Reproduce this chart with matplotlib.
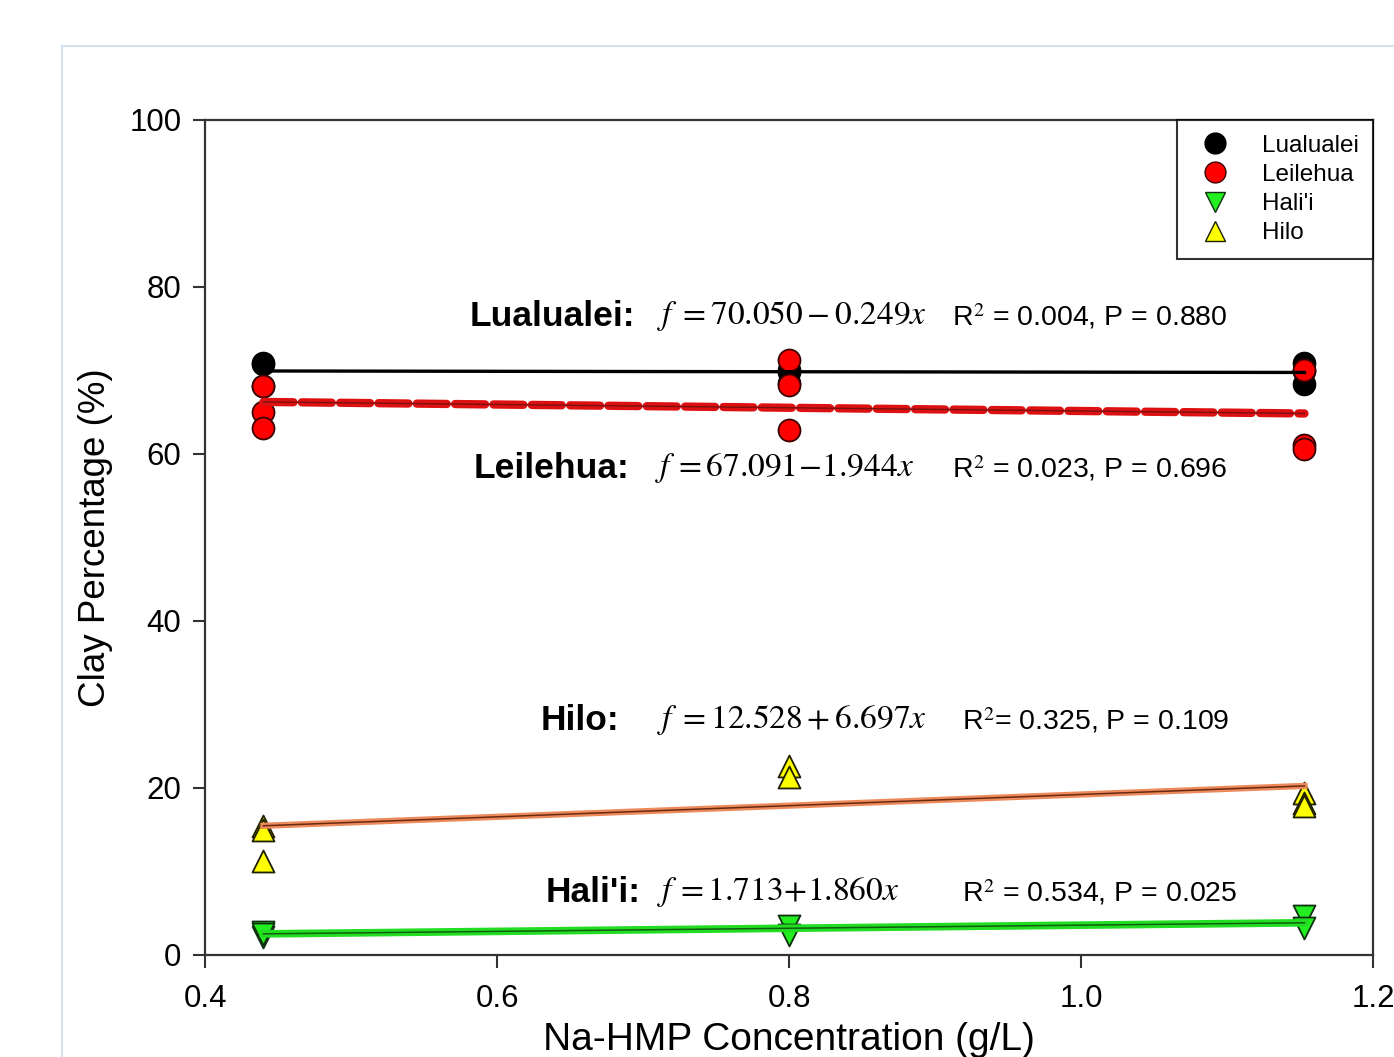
import numpy as np
import matplotlib.pyplot as plt
from matplotlib.lines import Line2D
from matplotlib.patches import Rectangle

# measured data (Na-HMP concentration vs clay %)
lual_x = [0.44, 0.44, 0.44, 0.80, 0.80, 0.80, 1.153, 1.153, 1.153]
lual_y = [70.9, 70.8, 68.2, 70.0, 69.8, 68.5, 70.9, 69.9, 68.4]
leil_x = [0.44, 0.44, 0.44, 0.80, 0.80, 0.80, 1.153, 1.153, 1.153]
leil_y = [68.1, 65.0, 63.1, 71.3, 68.3, 62.9, 70.1, 61.1, 60.6]
hali_x = [0.44, 0.44, 0.44, 0.80, 0.80, 1.153, 1.153]
hali_y = [2.75, 2.2, 2.5, 3.5, 2.4, 4.7, 3.2]
hilo_x = [0.44, 0.44, 0.44, 0.80, 0.80, 1.153, 1.153, 1.153]
hilo_y = [15.4, 15.0, 11.3, 22.6, 21.3, 19.4, 18.2, 17.8]

# regression fits (intercept, slope)
lual_fit = (70.050, -0.249)
leil_fit = (67.091, -1.944)
hilo_fit = (12.528, 6.697)
hali_fit = (1.713, 1.860)
fit_range = [0.44, 1.153]

x_ticks = [0.4, 0.6, 0.8, 1.0, 1.2]
y_ticks = [0, 20, 40, 60, 80, 100]

plt.rcParams["font.family"] = ["Liberation Sans", "DejaVu Sans"]
plt.rcParams["mathtext.fontset"] = "stix"


def fit_line(fit):
    xs = np.array(fit_range)
    return xs, fit[0] + fit[1] * xs


def main() -> None:
    fig = plt.figure(figsize=(13.94, 10.57), dpi=100)
    fig.patches.append(Rectangle((0.0445, -0.1), 1.2, 1.0565, transform=fig.transFigure,
                                 fill=False, edgecolor="#d5e1f0", lw=1.5))
    ax = fig.add_axes([0.1471, 0.0965, 0.8379, 0.79])

    ms = 250
    ax.scatter(lual_x, lual_y, s=ms, marker="o", c="black", edgecolors="black", lw=1.2, zorder=2)
    ax.scatter(leil_x, leil_y, s=ms, marker="o", c="#ff0000", edgecolors="#3a0000", lw=1.3, zorder=2)
    ax.scatter(hali_x, hali_y, s=ms, marker="v", c="#22ee22", edgecolors="#103010", lw=1.3, zorder=2)
    ax.scatter(hilo_x, hilo_y, s=ms, marker="^", c="#ffff00", edgecolors="#202000", lw=1.3, zorder=2)

    xs, ys = fit_line(lual_fit)
    ax.plot(xs, ys, color="black", lw=2.4, zorder=3)
    xs, ys = fit_line(leil_fit)
    ax.plot(xs, ys, color="#dd1111", lw=6, dashes=(3.6, 1.0), dash_capstyle="round", zorder=3)
    ax.plot(xs, ys, color="#7a1010", lw=1.0, zorder=3)
    xs, ys = fit_line(hilo_fit)
    ax.plot(xs, ys, color="#ec8a5c", lw=4.5, zorder=3)
    ax.plot(xs, ys, color="#6a2a10", lw=1.1, zorder=3)
    xs, ys = fit_line(hali_fit)
    ax.plot(xs, ys, color="#22dd22", lw=5.5, zorder=3)
    ax.plot(xs, ys, color="#106010", lw=1.1, zorder=3)

    # annotations
    bold = dict(fontsize=25.5, fontweight="bold", va="center", ha="left")
    math = dict(fontsize=24, va="center", ha="left")
    stat = dict(fontsize=20.5, va="center", ha="left")
    ax.text(0.5815, 76.5, "Lualualei:", **bold)
    ax.text(0.7096, 76.5, r"$f\;=70.050-0.249x$", **math)
    ax.text(0.9116, 76.5, r"R$^2$ = 0.004, P = 0.880", **stat)
    ax.text(0.5842, 58.3, "Leilehua:", **bold)
    ax.text(0.7080, 58.3, r"$f\,=67.091\!-\!1.944x$", **math)
    ax.text(0.9116, 58.3, r"R$^2$ = 0.023, P = 0.696", **stat)
    ax.text(0.6295, 28.1, "Hilo:", **bold)
    ax.text(0.7096, 28.1, r"$f\;=12.528+6.697x$", **math)
    ax.text(0.9185, 28.1, r"R$^2$= 0.325, P = 0.109", **stat)
    ax.text(0.6336, 7.5, "Hali'i:", **bold)
    ax.text(0.7096, 7.5, r"$f\,=1.713\!+\!1.860x$", **math)
    ax.text(0.9185, 7.5, r"R$^2$ = 0.534, P = 0.025", **stat)

    ax.set_xlim(0.4, 1.2)
    ax.set_ylim(0, 100)
    ax.set_xticks(x_ticks)
    ax.set_xticklabels([f"{v:.1f}" for v in x_ticks])
    ax.set_yticks(y_ticks)
    ax.tick_params(axis="both", direction="out", length=9, width=1.5, labelsize=22.5, color="#333333")
    ax.tick_params(axis="x", pad=12)
    ax.tick_params(axis="y", pad=8)
    for sp in ax.spines.values():
        sp.set_linewidth(1.6)
        sp.set_color("#333333")
    ax.set_xlabel("Na-HMP Concentration (g/L)", fontsize=28, labelpad=6)
    ax.set_ylabel("Clay Percentage (%)", fontsize=26.5, labelpad=12)

    handles = [
        Line2D([], [], ls="", marker="o", ms=15, mfc="black", mec="black"),
        Line2D([], [], ls="", marker="o", ms=15, mfc="#ff0000", mec="#3a0000"),
        Line2D([], [], ls="", marker="v", ms=15, mfc="#22ee22", mec="#103010"),
        Line2D([], [], ls="", marker="^", ms=15, mfc="#ffff00", mec="#202000"),
    ]
    leg = ax.legend(handles, ["Lualualei", "Leilehua", "Hali'i", "Hilo"], loc="upper right",
                    fontsize=17.5, frameon=True, fancybox=False, borderaxespad=0,
                    labelspacing=0.3, handletextpad=0.9, borderpad=0.6, handlelength=2.0)
    leg.get_frame().set_edgecolor("black")
    leg.get_frame().set_linewidth(1.5)

    fig.savefig("out.png", dpi=100)


if __name__ == "__main__":
    main()
